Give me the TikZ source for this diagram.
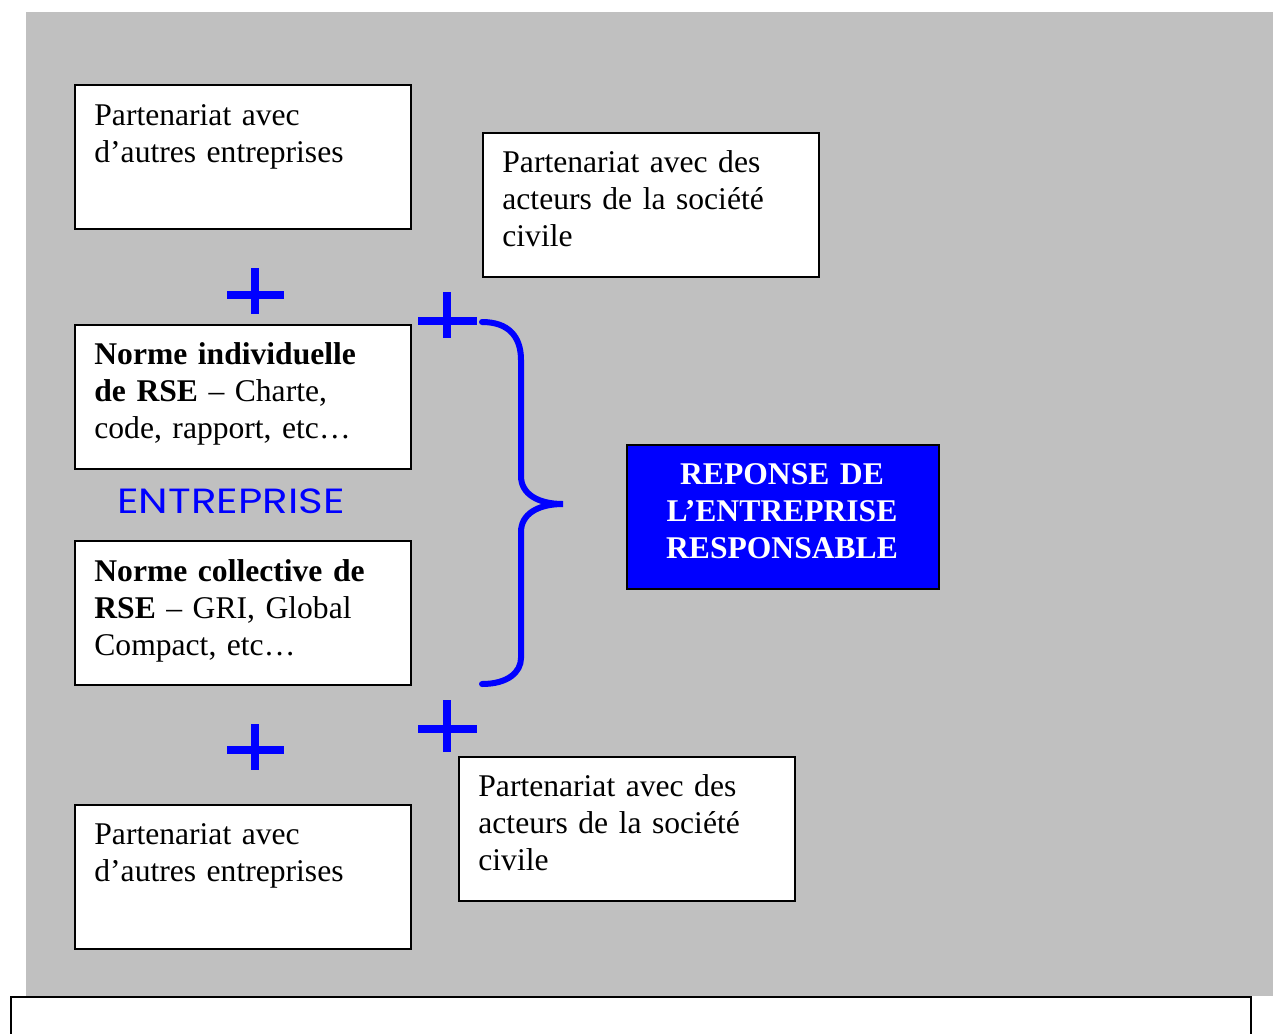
\documentclass[tikz,border=0pt]{standalone}
\usepackage{fontspec}
\setmainfont{Liberation Serif}
\newfontfamily\geofont{Poppins}
\definecolor{panel}{HTML}{C0C0C0}
\definecolor{vivid}{HTML}{0000FF}

\begin{document}
\begin{tikzpicture}[x=0.5pt,y=-0.5pt,
  box/.style={draw=black, line width=1pt, fill=white, anchor=north west,
              minimum width=168pt, minimum height=72pt, inner sep=0pt},
  boxtext/.style={anchor=base west, inner sep=0pt, text width=160pt, align=left,
                  font=\fontsize{15.8}{18.5}\selectfont},
  plussign/.style={draw=vivid, line width=4.2pt},
  bracket/.style={draw=vivid, line width=3pt, line cap=round}]

  % page frame
  \useasboundingbox (0,0) rectangle (1273,1033);
  \fill[panel] (26,12) rectangle (1273,996);
  \draw[black, line width=1pt] (11,1040) -- (11,997) -- (1251,997) -- (1251,1040);

  % left column
  \node[box] (b1) at (74,84) {};
  \node[boxtext] (t1) at (94,125) {Partenariat avec\\d’autres entreprises};

  \node[box] (b3) at (74,324) {};
  \node[boxtext] (t3) at (94,364) {\textbf{Norme individuelle}\\\textbf{de RSE} – Charte,\\code, rapport, etc…};

  \node[font=\geofont\fontsize{17.5}{20}\selectfont, text=vivid, inner sep=0pt] (ent) at (231,501)
    {\scalebox{1.2}[1]{ENTREPRISE}};

  \node[box] (b4) at (74,540) {};
  \node[boxtext] (t4) at (94,581) {\textbf{Norme collective de}\\\textbf{RSE} – GRI, Global\\Compact, etc…};

  \node[box] (b5) at (74,804) {};
  \node[boxtext] (t5) at (94,844) {Partenariat avec\\d’autres entreprises};

  % civil society boxes
  \node[box] (b2) at (482,132) {};
  \node[boxtext] (t2) at (502,172) {Partenariat avec des\\acteurs de la société\\civile};

  \node[box] (b6) at (458,756) {};
  \node[boxtext] (t6) at (478,796) {Partenariat avec des\\acteurs de la société\\civile};

  % outcome
  \node[box, fill=vivid, minimum width=156pt] (resp) at (626,444) {};
  \node[anchor=base, inner sep=0pt, text width=156pt, align=center, text=white,
        font=\bfseries\fontsize{15.8}{18.5}\selectfont] (respt) at (782,484)
        {REPONSE DE\\L’ENTREPRISE\\RESPONSABLE};

  % plus signs
  \draw[plussign] (227,295) -- (284,295) (255,268) -- (255,314);
  \draw[plussign] (418,321) -- (477,321) (447,292) -- (447,338);
  \draw[plussign] (227,750) -- (284,750) (255,724) -- (255,770);
  \draw[plussign] (418,729) -- (477,729) (447,700) -- (447,752);

  % curly bracket
  \draw[bracket] (482,322) .. controls (508,322) and (521,336) .. (521,360)
    -- (521,476) .. controls (521,494) and (538,504) .. (563,504)
    .. controls (538,504) and (521,514) .. (521,532)
    -- (521,658) .. controls (521,672) and (508,684) .. (482,684);
\end{tikzpicture}
\end{document}
